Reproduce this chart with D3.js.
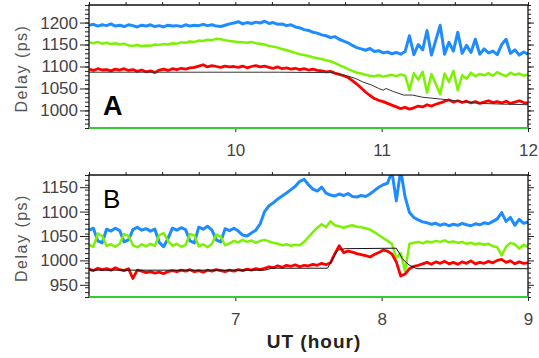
<!DOCTYPE html>
<html>
<head>
<meta charset="utf-8">
<script src="https://cdn.jsdelivr.net/npm/d3@7"></script>
<style>
  body { margin: 0; background: #fff; }
  svg { display: block; font-family: "Liberation Sans", Arial, sans-serif; }
</style>
</head>
<body>
<div id="chart"></div>
<script>
// ---- panel A (9-12 UT) ----
const hoursA = [9.00,9.03,9.06,9.09,9.12,9.15,9.18,9.21,9.24,9.27,9.30,9.33,9.36,9.39,9.42,9.45,9.48,9.51,9.54,9.57,
  9.60,9.63,9.66,9.69,9.72,9.75,9.78,9.81,9.84,9.87,9.90,9.93,9.96,9.99,10.02,10.05,10.08,10.11,10.14,10.17,
  10.20,10.23,10.26,10.29,10.32,10.35,10.38,10.41,10.44,10.47,10.50,10.53,10.56,10.59,10.62,10.65,10.68,10.71,10.74,10.77,
  10.80,10.83,10.86,10.89,10.92,10.95,10.98,11.01,11.04,11.07,11.10,11.13,11.16,11.19,11.22,11.25,11.28,11.31,11.34,11.37,
  11.40,11.43,11.46,11.49,11.52,11.55,11.58,11.61,11.64,11.67,11.70,11.73,11.76,11.79,11.82,11.85,11.88,11.91,11.94,11.97,12.00];
const blueA = [1194,1196,1192,1195,1193,1197,1192,1194,1191,1195, 1193,1190,1194,1192,1195,1191,1193,1190,1194,1192,
  1193,1191,1195,1192,1194,1193,1196,1193,1195,1192, 1191,1194,1197,1199,1202,1197,1200,1198,1201,1199,
  1203,1198,1200,1196,1197,1193,1195,1190,1188,1184, 1182,1178,1176,1172,1170,1166,1168,1162,1158,1154,
  1148,1143,1140,1137,1141,1134,1136,1131,1133,1129, 1132,1128,1134,1170,1127,1150,1138,1182,1126,1160,
  1194,1128,1155,1135,1178,1130,1148,1132,1162,1128, 1140,1131,1135,1127,1150,1162,1130,1138,1126,1133,1128];
const greenA = [1155,1153,1156,1152,1154,1151,1153,1150,1152,1148, 1147,1149,1146,1148,1147,1150,1149,1151,1150,1153,
  1152,1155,1154,1157,1156,1159,1158,1161,1160,1163, 1162,1160,1158,1157,1156,1155,1154,1156,1153,1152,
  1150,1147,1145,1143,1140,1137,1134,1131,1128,1126, 1124,1121,1119,1117,1114,1112,1108,1103,1099,1094,
  1090,1086,1084,1081,1079,1078,1080,1077,1079,1081, 1078,1082,1079,1046,1085,1070,1088,1040,1083,1060,
  1037,1084,1065,1090,1046,1080,1072,1086,1078,1083, 1080,1085,1079,1087,1082,1078,1086,1081,1084,1079,1082];
const redA = [1094,1091,1095,1092,1093,1090,1094,1092,1095,1091, 1093,1089,1092,1088,1090,1086,1092,1094,1091,1095,
  1093,1096,1094,1097,1098,1101,1104,1099,1102,1100, 1098,1101,1099,1100,1098,1101,1097,1100,1102,1099,
  1101,1098,1096,1099,1095,1097,1094,1096,1093,1095, 1092,1094,1091,1090,1088,1089,1085,1082,1079,1075,
  1068,1060,1051,1042,1034,1027,1023,1020,1016,1012, 1008,1004,1007,1003,1006,1010,1008,1013,1010,1014,
  1017,1021,1024,1019,1022,1018,1021,1017,1020,1016, 1019,1022,1018,1020,1017,1021,1016,1019,1022,1018,1017];
const blackHoursA = [9.0,10.3,10.66,10.75,10.82,10.87,10.93,10.98,11.01,11.03,11.08,11.15,11.21,11.28,11.40,11.51,11.67,11.86,12.0];
const blackA = [1087,1087,1086,1080,1073,1065,1058,1050,1046,1050,1043,1035,1035,1030,1026,1022,1016,1014,1013];

// ---- panel B (6-9 UT) ----
const hoursB = [6.00,6.03,6.06,6.09,6.12,6.15,6.18,6.21,6.24,6.27,6.30,6.33,6.36,6.39,6.42,6.45,6.48,6.51,6.54,6.57,
  6.60,6.63,6.66,6.69,6.72,6.75,6.78,6.81,6.84,6.87,6.90,6.93,6.96,6.99,7.02,7.05,7.08,7.11,7.14,7.17,
  7.20,7.23,7.26,7.29,7.32,7.35,7.38,7.41,7.44,7.47,7.50,7.53,7.56,7.59,7.62,7.65,7.68,7.71,7.74,7.77,
  7.80,7.83,7.86,7.89,7.92,7.95,7.98,8.01,8.04,8.07,8.10,8.13,8.16,8.19,8.22,8.25,8.28,8.31,8.34,8.37,
  8.40,8.43,8.46,8.49,8.52,8.55,8.58,8.61,8.64,8.67,8.70,8.73,8.76,8.79,8.82,8.85,8.88,8.91,8.94,8.97,9.00];
const blueB = [1062,1066,1040,1036,1064,1060,1066,1061,1038,1042, 1063,1068,1062,1065,1060,1064,1037,1028,1045,1066,
  1062,1067,1063,1040,1036,1068,1064,1070,1062,1042, 1038,1065,1061,1066,1060,1052,1050,1056,1062,1075,
  1100,1112,1118,1126,1132,1138,1145,1152,1162,1166, 1155,1146,1142,1150,1138,1134,1132,1136,1133,1137,
  1131,1130,1133,1131,1136,1143,1150,1155,1158,1182, 1122,1185,1130,1098,1088,1083,1079,1077,1074,1076,
  1072,1075,1071,1074,1072,1076,1073,1071,1075,1073, 1077,1075,1080,1085,1098,1080,1088,1072,1084,1076,1079];
const greenB = [1032,1028,1055,1050,1030,1033,1028,1034,1054,1050, 1031,1027,1033,1029,1034,1030,1052,1056,1040,1030,
  1034,1028,1032,1054,1051,1029,1033,1027,1034,1053, 1049,1031,1035,1040,1037,1042,1038,1041,1036,1040,
  1042,1039,1036,1034,1031,1033,1030,1032,1031,1038, 1048,1058,1067,1074,1068,1080,1072,1070,1067,1070,
  1072,1069,1068,1066,1063,1058,1052,1046,1040,1034, 1005,1015,978,1034,1036,1038,1035,1039,1037,1040,
  1038,1041,1037,1039,1036,1038,1034,1036,1033,1035, 1032,1034,1029,1027,1010,1028,1036,1033,1024,1032,1028];
const redB = [982,979,984,981,983,980,985,981,979,983, 963,980,978,975,977,974,976,973,977,979,
  977,980,978,981,977,979,976,980,978,981, 979,977,980,978,981,979,982,980,983,981,
  984,987,985,989,986,990,988,991,987,990, 989,992,990,994,991,995,1014,1030,1016,1019,
  1017,1014,1012,1010,1007,1012,1016,1021,1019,1013, 997,968,972,983,988,990,993,996,992,997,
  994,998,993,996,992,997,994,999,993,996, 994,998,995,1000,1002,996,999,993,997,994,995];
const blackHoursB = [6.0,7.2,7.25,7.63,7.66,7.70,7.75,8.10,8.12,8.14,8.17,8.19,8.24,9.0];
const blackB = [980,980,984,984,1000,1021,1024,1025,1015,1004,995,990,983,983];

// ---- ticks ----
const yTicksA = [1000, 1050, 1100, 1150, 1200];
const yTicksB = [950, 1000, 1050, 1100, 1150];
const xTicksA = [10, 11, 12];
const xTicksB = [7, 8, 9];

const svg = d3.select("#chart").append("svg")
    .attr("width", 539)
    .attr("height", 358);

function drawPanel(p) {
    const x = d3.scaleLinear().domain(p.xDomain).range([89, 528]);
    const y = d3.scaleLinear().domain(p.yDomain).range([p.bottom, p.top]);
    const g = svg.append("g");

    g.append("clipPath").attr("id", "clip" + p.name)
        .append("rect")
        .attr("x", 89).attr("y", p.top)
        .attr("width", 439).attr("height", p.bottom - p.top);

    // minor / major ticks on the left and right
    const minor = d3.range(p.yDomain[0], p.yDomain[1] + 1, 10);
    g.append("g").attr("transform", "translate(89,0)")
        .call(d3.axisLeft(y).tickValues(minor).tickSize(4).tickFormat(""));
    g.append("g").attr("transform", "translate(89,0)")
        .call(d3.axisLeft(y).tickValues(p.yTicks).tickSize(9).tickPadding(2).tickFormat(d3.format("d")));
    g.append("g").attr("transform", "translate(528,0)")
        .call(d3.axisRight(y).tickValues(minor).tickSize(3).tickFormat(""));
    g.append("g").attr("transform", "translate(528,0)")
        .call(d3.axisRight(y).tickValues(p.yTicks).tickSize(6).tickFormat(""));

    // quarter-hour ticks on top, hour ticks at the bottom
    const quarters = d3.range(p.xDomain[0], p.xDomain[1] + 0.01, 0.25);
    g.append("g").attr("transform", "translate(0," + p.top + ")")
        .call(d3.axisTop(x).tickValues(quarters).tickSize(3).tickFormat(""));
    g.append("g").attr("transform", "translate(0," + p.bottom + ")")
        .call(d3.axisBottom(x).tickValues(p.xTicks).tickSize(4).tickPadding(12).tickFormat(d3.format("d")));

    g.selectAll(".domain").remove();
    g.selectAll(".tick line").attr("stroke", "#222");
    g.selectAll(".tick text").attr("font-size", 17).attr("fill", "#444")
        .attr("font-family", "'Liberation Sans', Arial, sans-serif");

    // data lines
    const lines = g.append("g").attr("clip-path", "url(#clip" + p.name + ")");
    const line = d3.line()
        .x(d => x(d[0]))
        .y(d => y(d[1]));
    p.series.forEach(s => {
        lines.append("path")
            .datum(d3.zip(s.hours, s.values))
            .attr("fill", "none")
            .attr("stroke", s.color)
            .attr("stroke-width", s.width)
            .attr("stroke-linejoin", "round")
            .attr("d", line);
    });

    // frame: black box with green bottom edge
    g.append("path")
        .attr("d", `M89,${p.bottom}V${p.top}H528V${p.bottom}`)
        .attr("fill", "none")
        .attr("stroke", "#111")
        .attr("stroke-width", 1.3);
    g.append("line")
        .attr("x1", 89).attr("x2", 528)
        .attr("y1", p.bottom).attr("y2", p.bottom)
        .attr("stroke", "#33cc33")
        .attr("stroke-width", 2);

    // panel letter
    g.append("text")
        .attr("x", 103).attr("y", p.letterY)
        .attr("font-size", p.letterSize)
        .attr("font-weight", p.letterWeight)
        .attr("fill", "#000")
        .text(p.name);

    // y label
    g.append("text")
        .attr("transform", `translate(27,${(p.top + p.bottom) / 2 + 2}) rotate(-90)`)
        .attr("text-anchor", "middle")
        .attr("font-size", 16)
        .attr("letter-spacing", 1.5)
        .attr("fill", "#555")
        .text("Delay (ps)");
}

drawPanel({
    name: "A", top: 5, bottom: 128,
    xDomain: [9, 12], yDomain: [960, 1240],
    xTicks: xTicksA, yTicks: yTicksA,
    letterY: 115, letterSize: 27, letterWeight: "bold",
    series: [
        {hours: hoursA, values: blueA, color: "#1e8cff", width: 3},
        {hours: hoursA, values: greenA, color: "#7af200", width: 2.5},
        {hours: hoursA, values: redA, color: "#ff0000", width: 2.8},
        {hours: blackHoursA, values: blackA, color: "#333", width: 1}
    ]
});

drawPanel({
    name: "B", top: 175, bottom: 297,
    xDomain: [6, 9], yDomain: [925, 1175],
    xTicks: xTicksB, yTicks: yTicksB,
    letterY: 208, letterSize: 26, letterWeight: "normal",
    series: [
        {hours: hoursB, values: blueB, color: "#1e8cff", width: 3},
        {hours: hoursB, values: greenB, color: "#7af200", width: 2.5},
        {hours: hoursB, values: redB, color: "#ff0000", width: 2.8},
        {hours: blackHoursB, values: blackB, color: "#111", width: 1}
    ]
});

// x axis title
svg.append("text")
    .attr("x", 314).attr("y", 348)
    .attr("text-anchor", "middle")
    .attr("font-size", 19)
    .attr("font-weight", "bold")
    .attr("letter-spacing", 1)
    .attr("fill", "#222")
    .text("UT (hour)");
</script>
</body>
</html>
